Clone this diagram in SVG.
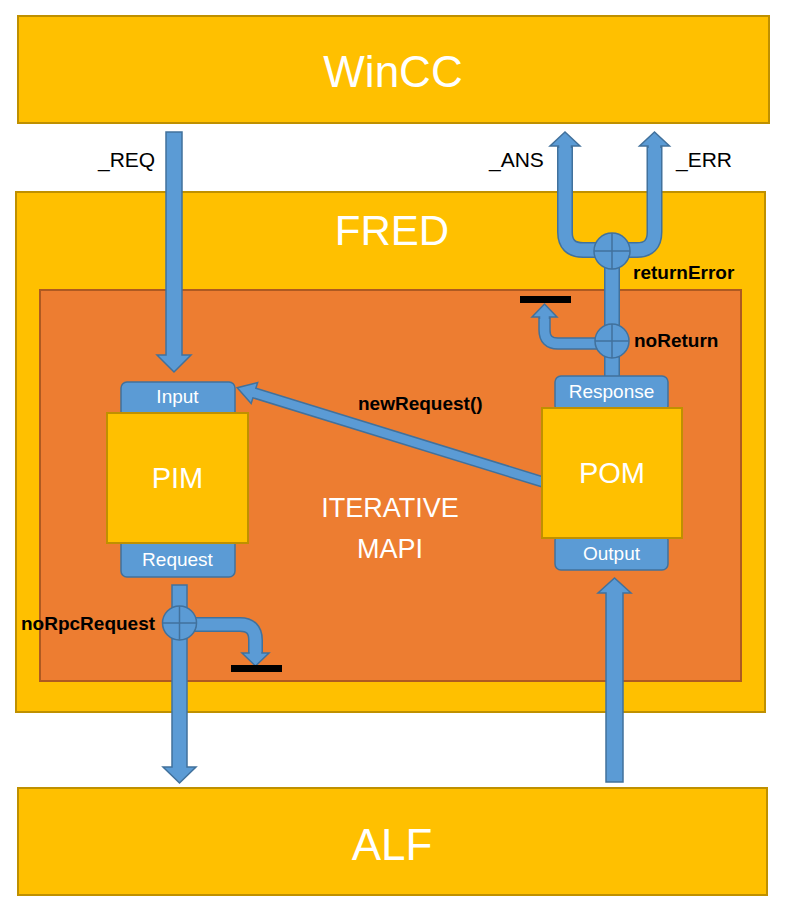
<svg xmlns="http://www.w3.org/2000/svg" width="787" height="917" viewBox="0 0 787 917">
<defs>
<style>
.box{fill:#FFC000;stroke:#BF9000;stroke-width:2}
.mapi{fill:#ED7D31;stroke:#AE5A21;stroke-width:2}
.port{fill:#5B9BD5;stroke:#41719C;stroke-width:1.5}
.arrow{fill:#5B9BD5;stroke:#41719C;stroke-width:1.5;stroke-linejoin:miter}
.tubeO{fill:none;stroke:#41719C;stroke-linejoin:round}
.tubeI{fill:none;stroke:#5B9BD5;stroke-linejoin:round}
.cross{stroke:#41719C;stroke-width:1.5}
.bar{fill:#000}
.big{font-family:"Liberation Sans",Arial,sans-serif;fill:#fff;text-anchor:middle}
.pl{font-family:"Liberation Sans",Arial,sans-serif;fill:#fff;text-anchor:middle;font-size:19px}
.lbl{font-family:"Liberation Sans",Arial,sans-serif;fill:#000;font-size:21px}
.bl{font-family:"Liberation Sans",Arial,sans-serif;fill:#000;font-size:19px;font-weight:bold}
</style>
</defs>
<rect width="787" height="917" fill="#fff"/>
<g id="wincc">
<rect class="box" x="18" y="16" width="751" height="107"/>
<text class="big" x="393" y="87" font-size="44">WinCC</text>
</g>
<g id="fred">
<rect class="box" x="16" y="192" width="749" height="520"/>
<text class="big" x="392" y="245" font-size="42">FRED</text>
</g>
<g id="mapi">
<rect class="mapi" x="40" y="290" width="701" height="391"/>
<text class="big" x="390" y="517" font-size="27">ITERATIVE</text>
<text class="big" x="390" y="558" font-size="27">MAPI</text>
</g>
<g id="alf">
<rect class="box" x="18" y="788" width="749" height="107"/>
<text class="big" x="392" y="860" font-size="44">ALF</text>
</g>
<g id="connectors">
<!-- _REQ -->
<path class="arrow" d="M166,132 H182 V355 H191 L174,372 L157,355 H166 Z"/>
<!-- Output from ALF -->
<path class="arrow" d="M606,782 V593 H598 L614.5,578 L631,593 H623 V782 Z"/>
<!-- Request down to ALF -->
<path class="arrow" d="M172,585 H187 V767 H196 L179.5,783 L163,767 H172 Z"/>
<!-- noRpcRequest branch -->
<path class="tubeO" stroke-width="15" d="M190,624.5 H240 Q255.5,624.5 255.5,640 V654"/>
<path class="tubeI" stroke-width="12" d="M190,624.5 H240 Q255.5,624.5 255.5,640 V655"/>
<path class="arrow" d="M249,652 V653 H242 L255.5,666 L269,653 H262 V652"/>
<circle class="port" cx="179.5" cy="623" r="17"/>
<line class="cross" x1="162.5" y1="623" x2="196.5" y2="623"/>
<line class="cross" x1="179.5" y1="606" x2="179.5" y2="640"/>
<!-- Response up -->
<path class="tubeO" stroke-width="16" d="M612,378 V251"/>
<path class="tubeI" stroke-width="13" d="M612,379 V251"/>
<!-- noReturn branch -->
<path class="tubeO" stroke-width="12.5" d="M600,343.5 H558 Q544.5,343.5 544.5,330 V316"/>
<path class="tubeI" stroke-width="9.5" d="M600,343.5 H558 Q544.5,343.5 544.5,330 V317"/>
<path class="arrow" d="M539.5,319 V317 H532 L544.5,304 L557,317 H549.5 V319"/>
<circle class="port" cx="612" cy="341" r="17"/>
<line class="cross" x1="595" y1="341" x2="629" y2="341"/>
<line class="cross" x1="612" y1="324" x2="612" y2="358"/>
<!-- U shape _ANS / _ERR -->
<path class="tubeO" stroke-width="16" d="M600,250 H583 Q565,250 565,232 V145"/>
<path class="tubeI" stroke-width="13" d="M600,250 H583 Q565,250 565,232 V146"/>
<path class="tubeO" stroke-width="16" d="M624,250 H637 Q654.5,250 654.5,232 V145"/>
<path class="tubeI" stroke-width="13" d="M624,250 H637 Q654.5,250 654.5,232 V146"/>
<path class="arrow" d="M558.5,148 V146 H550 L565,132 L580,146 H571.5 V148"/>
<path class="arrow" d="M648,148 V146 H639.5 L654.5,132 L669.5,146 H661 V148"/>
<circle class="port" cx="612" cy="251" r="18"/>
<line class="cross" x1="594" y1="251" x2="630" y2="251"/>
<line class="cross" x1="612" y1="233" x2="612" y2="269"/>
<!-- newRequest() -->
<path class="arrow" transform="translate(543,482) rotate(197.13)" d="M0,-5 H302 V-11 L320,0 L302,11 V5 H0 Z"/>
<!-- sinks -->
<rect class="bar" x="231" y="665" width="51" height="7"/>
<rect class="bar" x="520" y="296" width="51" height="7"/>
<!-- labels -->
<text class="lbl" x="98" y="167">_REQ</text>
<text class="lbl" x="489" y="167">_ANS</text>
<text class="lbl" x="676" y="167">_ERR</text>
<text class="bl" x="633" y="279">returnError</text>
<text class="bl" x="634" y="347">noReturn</text>
<text class="bl" x="358" y="410">newRequest()</text>
<text class="bl" x="21" y="630">noRpcRequest</text>
</g>
<g id="pim">
<rect class="port" x="121" y="382" width="114" height="36" rx="6"/>
<rect class="port" x="121" y="538" width="114" height="39" rx="6"/>
<rect class="box" x="107" y="413" width="141" height="130"/>
<text class="pl" x="177.5" y="403">Input</text>
<text class="big" x="177.5" y="488" font-size="29">PIM</text>
<text class="pl" x="177.5" y="566">Request</text>
</g>
<g id="pom">
<rect class="port" x="555" y="376" width="113" height="36" rx="6"/>
<rect class="port" x="555" y="534" width="113" height="36" rx="6"/>
<rect class="box" x="542" y="408" width="140" height="130"/>
<text class="pl" x="611.5" y="398" font-size="18">Response</text>
<text class="big" x="612" y="483" font-size="29">POM</text>
<text class="pl" x="611.5" y="560">Output</text>
</g>
</svg>
